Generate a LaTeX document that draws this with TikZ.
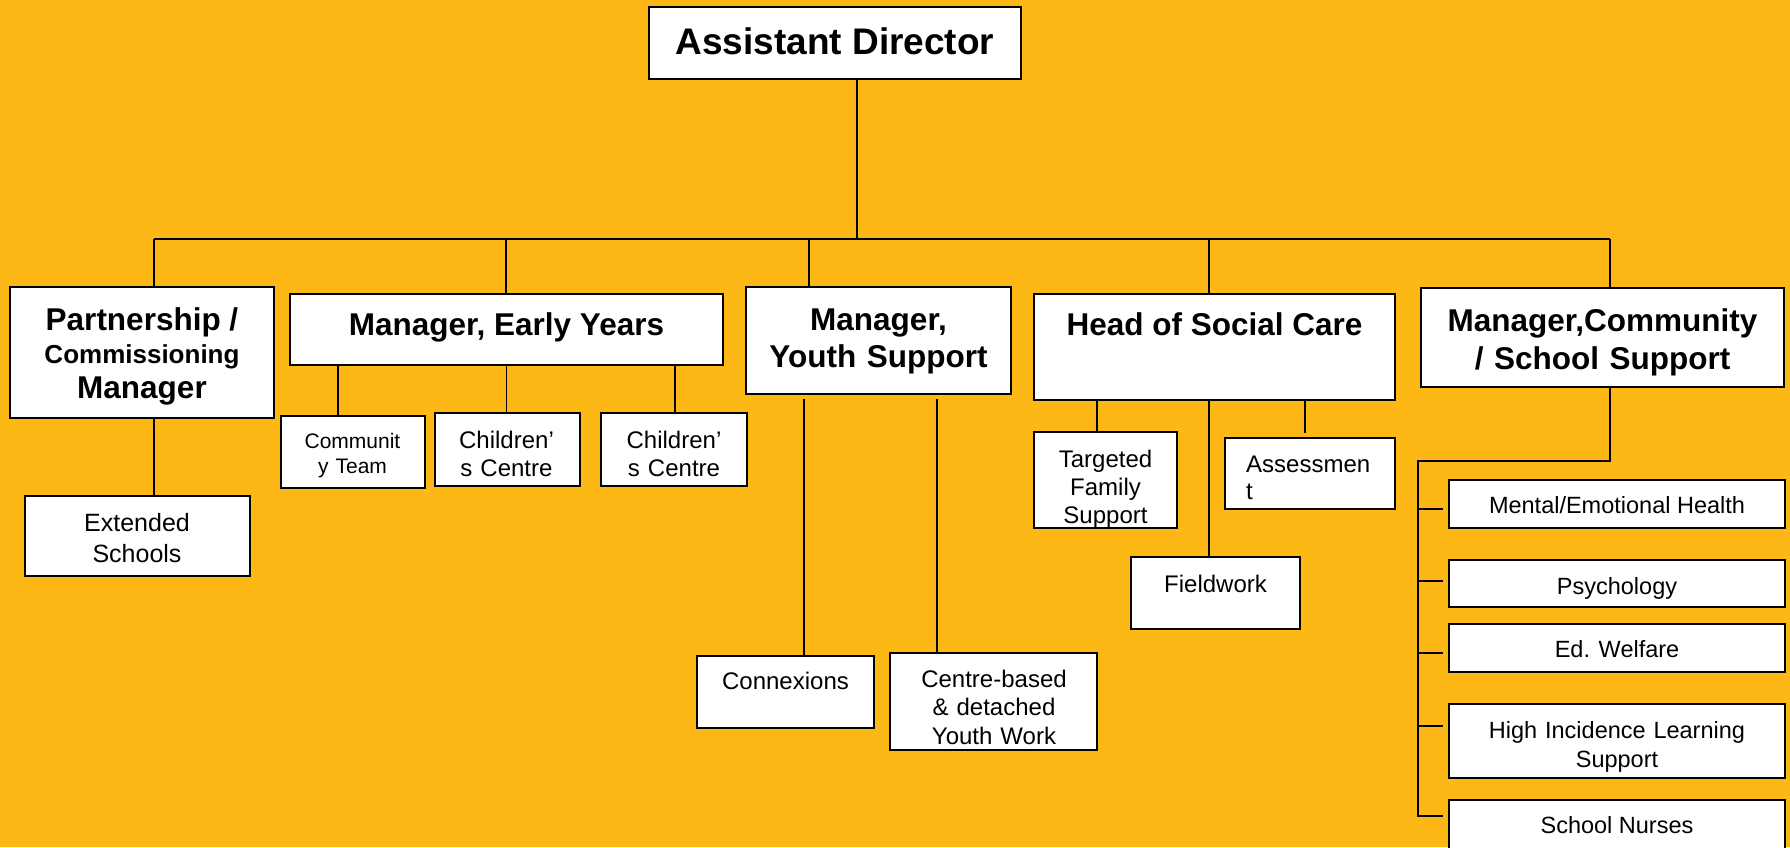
\documentclass[tikz,border=0pt]{standalone}
\usepackage{fontspec}
\setmainfont{Liberation Sans}
\definecolor{bg}{RGB}{254,184,22}
\newcommand\orgbox[5]{\node[box,minimum width={#4-#2},minimum height={#5-#3}] (#1) at ({(#2+#4)/2},{(#3+#5)/2}) {};}
\begin{document}
\begin{tikzpicture}[x=1pt,y=-1pt,
  box/.style={draw=black,line width=1.9pt,fill=white,inner sep=0pt},
  conn/.style={draw=black,line width=1.7pt},
  lbl/.style={anchor=base,inner sep=0pt,align=center},
  hdr/.style={font=\fontsize{31.5}{37}\selectfont\bfseries},
  txt/.style={font=\fontsize{24}{28}\selectfont},
  rtxt/.style={font=\fontsize{23.5}{29.5}\selectfont}]
\clip (0,0) rectangle (1790,847);
\fill[bg] (0,0) rectangle (1790,847);
% boxes
\orgbox{ad}{649}{7}{1021}{79}
\orgbox{pcm}{10}{287}{274}{418}
\orgbox{ey}{290}{294}{723}{365}
\orgbox{ys}{746}{287}{1011}{394}
\orgbox{hsc}{1034}{294}{1395}{400}
\orgbox{mcs}{1421}{288}{1784}{387}
\orgbox{ext}{25}{496}{250}{576}
\orgbox{ct}{281}{416}{425}{488}
\orgbox{cc1}{435}{413}{580}{486}
\orgbox{cc2}{601}{413}{747}{486}
\orgbox{cx}{697}{656}{874}{728}
\orgbox{cb}{890}{653}{1097}{750}
\orgbox{tfs}{1034}{432}{1177}{528}
\orgbox{as}{1225}{438}{1395}{509}
\orgbox{fw}{1131}{557}{1300}{629}
\orgbox{meh}{1449}{480}{1785}{528}
\orgbox{psy}{1449}{560}{1785}{607}
\orgbox{edw}{1449}{624}{1785}{672}
\orgbox{hil}{1449}{704}{1785}{778}
\orgbox{sn}{1449}{800}{1785}{870}
% connector coordinates
\coordinate (bus) at (857,239);
\coordinate (b1) at (154,239);
\coordinate (b2) at (506,239);
\coordinate (b3) at (809,239);
\coordinate (b4) at (1209,239);
\coordinate (b5) at (1610,239);
\coordinate (e1) at (338,365);
\coordinate (e2) at (506.5,365);
\coordinate (e3) at (675,365);
\coordinate (y1) at (804,399);
\coordinate (y2) at (937,399);
\coordinate (h1) at (1097,400);
\coordinate (h2) at (1209,400);
\coordinate (h3) at (1305,400);
\coordinate (h3e) at (1305,433);
\coordinate (m1) at (1610,461);
\coordinate (m2) at (1418,461);
\coordinate (m3) at (1418,816);
\coordinate (k1) at (1443,509);
\coordinate (k2) at (1443,581);
\coordinate (k3) at (1443,653);
\coordinate (k4) at (1443,726);
\coordinate (k5) at (1443,816);
% connectors
\draw[conn] (ad.south -| bus) -- (bus);
\draw[conn] (b1) -- (b5);
\draw[conn] (b1) -- (b1 |- pcm.north);
\draw[conn] (b2) -- (b2 |- ey.north);
\draw[conn] (b3) -- (b3 |- ys.north);
\draw[conn] (b4) -- (b4 |- hsc.north);
\draw[conn] (b5) -- (b5 |- mcs.north);
\draw[conn] (pcm.south -| b1) -- (ext.north -| b1);
\draw[conn] (ey.south -| e1) -- (ct.north -| e1);
\draw[conn] (ey.south -| e2) -- (cc1.north -| e2);
\draw[conn] (ey.south -| e3) -- (cc2.north -| e3);
\draw[conn] (y1) -- (cx.north -| y1);
\draw[conn] (y2) -- (cb.north -| y2);
\draw[conn] (hsc.south -| h1) -- (tfs.north -| h1);
\draw[conn] (hsc.south -| h2) -- (fw.north -| h2);
\draw[conn] (hsc.south -| h3) -- (h3e);
\draw[conn,line join=miter] (mcs.south -| m1) -- (m1) -- (m2) -- (m3) -- (k5);
\draw[conn] (k1 -| m2) -- (k1);
\draw[conn] (k2 -| m2) -- (k2);
\draw[conn] (k3 -| m2) -- (k3);
\draw[conn] (k4 -| m2) -- (k4);
% texts
\node[lbl,font=\fontsize{37}{42}\selectfont\bfseries] (adT) at (835,54) {Assistant Director};
\node[lbl,font=\fontsize{31.5}{37}\selectfont\bfseries] (pcmT1) at (142,330) {Partnership /};
\node[lbl,font=\fontsize{26}{30}\selectfont\bfseries] (pcmT2) at (142,363) {Commissioning};
\node[lbl,font=\fontsize{31.5}{37}\selectfont\bfseries] (pcmT3) at (142,398) {Manager};
\node[lbl,hdr] (eyT) at (506.5,335) {Manager, Early Years};
\node[lbl,hdr,text width=265] (ysT) at (878.5,330) {Manager,\\Youth Support};
\node[lbl,hdr] (hscT) at (1214.5,335) {Head of Social Care};
\node[lbl,font=\fontsize{31.5}{38}\selectfont\bfseries,text width=363] (mcsT) at (1602.5,331) {Manager,Community\\/ School Support};
\node[lbl,font=\fontsize{25}{31}\selectfont,text width=225] (extT) at (137,531) {Extended\\Schools};
\node[lbl,font=\fontsize{21}{25}\selectfont,text width=144] (ctT) at (352.5,448) {Communit\\y Team};
\node[lbl,txt,text width=145] (cc1T) at (506.5,448) {Children’\\s Centre};
\node[lbl,txt,text width=145] (cc2T) at (674,448) {Children’\\s Centre};
\node[lbl,txt] (cxT) at (785.5,689) {Connexions};
\node[lbl,font=\fontsize{24}{28.5}\selectfont,text width=207] (cbT) at (994,687) {Centre-based\\\& detached\\Youth Work};
\node[lbl,txt,text width=143] (tfsT) at (1105.5,467) {Targeted\\Family\\Support};
\node[anchor=base west,inner sep=0pt,align=left,font=\fontsize{24}{27}\selectfont,text width=148] (asT) at (1246,472) {Assessmen\\t};
\node[lbl,txt] (fwT) at (1215.5,592) {Fieldwork};
\node[lbl,rtxt] (mehT) at (1617,513.5) {Mental/Emotional Health};
\node[lbl,rtxt] (psyT) at (1617,594) {Psychology};
\node[lbl,rtxt] (edwT) at (1617,657.5) {Ed. Welfare};
\node[lbl,rtxt,text width=336] (hilT) at (1617,738) {High Incidence Learning\\Support};
\node[lbl,rtxt] (snT) at (1617,833) {School Nurses};
\end{tikzpicture}
\end{document}
